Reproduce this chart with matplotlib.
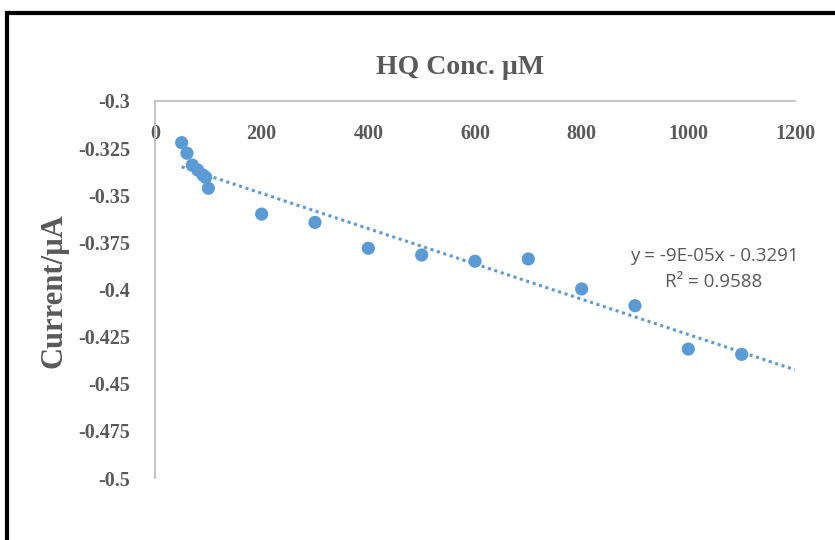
import numpy as np
import matplotlib.pyplot as plt
from matplotlib.patches import Rectangle

# HQ concentration (uM) and peak current (uA)
conc = [50, 60, 70, 80, 90, 95, 100, 200, 300, 400, 500, 600, 700, 800, 900, 1000, 1100]
current = [-0.3221, -0.3277, -0.3340, -0.3366, -0.3393, -0.3405, -0.3463, -0.3600, -0.3644,
           -0.3781, -0.3817, -0.3850, -0.3838, -0.3997, -0.4086, -0.4316, -0.4344]
x_ticks = [0, 200, 400, 600, 800, 1000, 1200]
y_ticks = [-0.3, -0.325, -0.35, -0.375, -0.4, -0.425, -0.45, -0.475, -0.5]
y_tick_labels = ['-0.3', '-0.325', '-0.35', '-0.375', '-0.4', '-0.425', '-0.45', '-0.475', '-0.5']
eq_text = 'y = -9E-05x - 0.3291'
r2_text = 'R² = 0.9588'

azul = '#5B9BD5'
cinza = '#595959'
serif = ['Liberation Serif', 'DejaVu Serif']

fig = plt.figure(figsize=(8.35, 5.4), dpi=100)
ax = fig.add_axes([155/835, 1 - 478/540, (795 - 155)/835, (478 - 101)/540])

# linear trendline (Excel style, forward to 1200)
coef = np.polyfit(conc, current, 1)
xt = np.array([min(conc), 1200])
ax.plot(xt, np.polyval(coef, xt), linestyle=(0, (1, 1.2)), color=azul, linewidth=2.2, zorder=2)

ax.scatter(conc, current, s=90, color=azul, zorder=3, edgecolors='none')

ax.set_xlim(0, 1200)
ax.set_ylim(-0.5, -0.3)
ax.xaxis.tick_top()
ax.set_xticks(x_ticks)
ax.set_yticks(y_ticks)
ax.set_yticklabels(y_tick_labels)
ax.tick_params(length=0)
# x labels sit just under the top axis line, like Excel
ax.tick_params(axis='x', pad=-31)
ax.tick_params(axis='y', pad=18)
for lbl in ax.get_xticklabels() + ax.get_yticklabels():
    lbl.set_family(serif)
    lbl.set_fontweight('bold')
    lbl.set_fontsize(14.5)
    lbl.set_color(cinza)

ax.spines['right'].set_visible(False)
ax.spines['bottom'].set_visible(False)
for s in ['top', 'left']:
    ax.spines[s].set_color('#BFBFBF')
    ax.spines[s].set_linewidth(1.3)

fig.text(460/835, 1 - 68/540, 'HQ Conc. µM', ha='center', va='center',
         family=serif, fontweight='bold', fontsize=20, color=cinza)
fig.text(54/835, 1 - 291/540, 'Current/µA', ha='center', va='center', rotation=90,
         family=serif, fontweight='bold', fontsize=22, color=cinza)

fig.text(714/835, 1 - 256/540, eq_text, ha='center', va='center',
         family=['Open Sans', 'DejaVu Sans'], fontsize=13.5, color=cinza)
fig.text(714/835, 1 - 282/540, r2_text, ha='center', va='center',
         family=['Open Sans', 'DejaVu Sans'], fontsize=13.5, color=cinza)

# black frame around the chart area
fig.patches.append(Rectangle((7/835, -0.05), 1.05, 1 - 13/540 + 0.05, transform=fig.transFigure,
                             fill=False, edgecolor='black', linewidth=3, zorder=10))

fig.savefig('out.png', dpi=100, facecolor='white')
